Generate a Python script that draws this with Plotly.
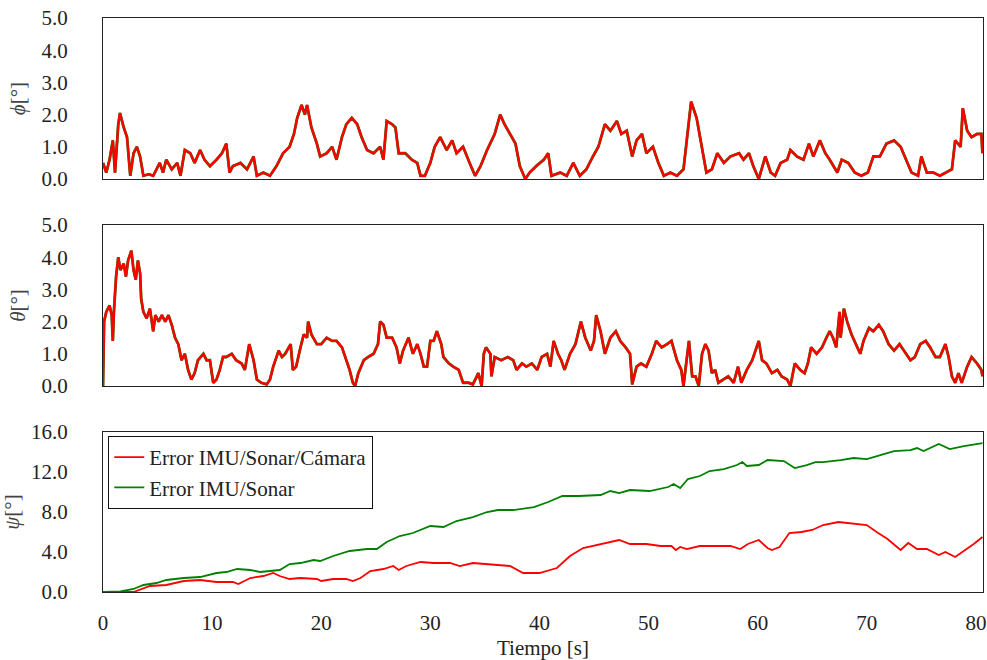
import plotly.graph_objects as go

# ---------------- data ----------------
t_phi = [0.0, 0.3, 0.6, 0.9, 1.1, 1.4, 1.56, 1.9, 2.2, 2.5, 2.8, 3.1, 3.4, 3.7, 4.2, 4.6, 5.2, 5.5, 5.8, 6.3,
         6.8, 7.1, 7.5, 8.0, 8.4, 8.9, 9.3, 9.8, 10.4, 10.9, 11.3, 11.6, 11.9, 12.6, 13.2, 13.8, 14.1, 14.7, 15.3, 15.9,
         16.5, 17.1, 17.5, 17.8, 18.2, 18.5, 18.7, 19.1, 19.6, 19.9, 20.5, 21.0, 21.4, 21.9, 22.3, 22.8, 23.3, 23.7, 24.2, 24.8,
         25.4, 25.7, 26.0, 26.5, 26.8, 27.1, 27.7, 28.3, 28.8, 29.1, 29.5, 30.0, 30.4, 30.9, 31.5, 32.0, 32.4, 33.0, 33.6, 34.1,
         34.6, 35.2, 35.9, 36.4, 36.8, 37.3, 37.8, 38.2, 38.7, 39.1, 39.7, 40.4, 40.8, 41.1, 41.9, 42.5, 43.1, 43.7, 44.3, 44.9,
         45.4, 46.0, 46.5, 47.1, 47.5, 48.0, 48.5, 48.9, 49.4, 49.8, 50.4, 50.9, 51.4, 52.0, 52.6, 53.2, 53.6, 53.9, 54.4, 54.9,
         55.3, 55.8, 56.3, 56.9, 57.5, 58.3, 58.7, 59.2, 59.6, 60.1, 60.7, 61.2, 61.6, 62.1, 62.7, 63.0, 63.6, 64.2, 64.7, 65.1,
         65.7, 66.2, 66.6, 67.3, 67.7, 68.3, 68.9, 69.5, 70.1, 70.6, 71.2, 71.8, 72.5, 73.1, 73.7, 74.1, 74.7, 75.0, 75.5, 76.1,
         76.7, 77.3, 77.8, 78.1, 78.6, 78.8, 79.2, 79.6, 80.1, 80.5, 80.6]
phi_cam = [0.5, 0.2, 0.6, 1.2, 0.2, 1.7, 2.05, 1.6, 1.3, 0.1, 0.8, 1.0, 0.7, 0.1, 0.15, 0.1, 0.5, 0.2, 0.6, 0.3,
           0.5, 0.1, 0.9, 0.8, 0.5, 0.9, 0.6, 0.4, 0.6, 0.8, 1.1, 0.2, 0.4, 0.5, 0.3, 0.7, 0.1, 0.2, 0.1, 0.4,
           0.8, 1.0, 1.4, 1.9, 2.3, 2.0, 2.3, 1.6, 1.1, 0.7, 0.8, 1.0, 0.6, 1.3, 1.7, 1.9, 1.7, 1.3, 0.9, 0.8,
           1.0, 0.6, 1.8, 1.7, 1.6, 0.8, 0.8, 0.6, 0.5, 0.1, 0.1, 0.5, 1.0, 1.3, 0.9, 1.2, 0.8, 1.0, 0.5, 0.1,
           0.4, 0.9, 1.4, 2.0, 1.7, 1.4, 1.1, 0.4, 0.0, 0.2, 0.4, 0.6, 0.8, 0.1, 0.2, 0.1, 0.5, 0.1, 0.3, 0.7,
           1.0, 1.7, 1.5, 1.8, 1.4, 1.5, 0.7, 1.2, 1.4, 0.8, 1.0, 0.5, 0.1, 0.2, 0.1, 0.3, 1.5, 2.4, 1.9, 0.9,
           0.2, 0.3, 0.8, 0.5, 0.7, 0.8, 0.6, 0.8, 0.4, 0.0, 0.7, 0.2, 0.1, 0.5, 0.6, 0.9, 0.7, 0.6, 1.1, 0.7,
           1.2, 0.8, 0.6, 0.2, 0.6, 0.5, 0.2, 0.1, 0.2, 0.7, 0.7, 1.1, 1.2, 1.0, 0.5, 0.2, 0.1, 0.7, 0.2, 0.2,
           0.1, 0.2, 0.3, 1.2, 1.0, 2.2, 1.5, 1.3, 1.4, 1.4, 0.8]
phi_son = phi_cam  # IMU/Sonar roll error lies under the red trace

t_theta = [0.0, 0.1, 0.3, 0.6, 0.8, 0.9, 1.0, 1.2, 1.4, 1.6, 1.9, 2.1, 2.3, 2.6, 2.8, 3.0, 3.2, 3.4, 3.5, 3.7,
           4.0, 4.3, 4.6, 4.8, 5.1, 5.4, 5.7, 6.0, 6.3, 6.6, 6.9, 7.2, 7.5, 7.8, 8.1, 8.4, 8.7, 9.2, 9.5, 9.8,
           10.1, 10.4, 10.7, 11.0, 11.3, 11.8, 12.2, 12.7, 13.0, 13.4, 13.8, 14.1, 14.5, 15.0, 15.3, 15.6, 16.1, 16.4, 16.7, 17.0,
           17.2, 17.4, 17.7, 18.1, 18.4, 18.7, 18.8, 19.1, 19.6, 20.0, 20.5, 21.0, 21.4, 21.9, 22.3, 22.6, 22.9, 23.1, 23.4, 23.9,
           24.3, 24.8, 25.2, 25.4, 25.7, 26.0, 26.5, 26.9, 27.2, 27.5, 28.0, 28.4, 28.8, 29.1, 29.4, 29.7, 30.0, 30.3, 30.6, 31.0,
           31.2, 31.7, 32.1, 32.6, 33.0, 33.5, 33.9, 34.4, 34.7, 34.9, 35.1, 35.5, 35.6, 35.9, 36.5, 37.1, 37.6, 37.9, 38.4, 38.8,
           39.3, 39.8, 40.2, 40.7, 41.0, 41.3, 41.7, 42.0, 42.3, 42.8, 43.3, 43.8, 44.2, 44.7, 45.0, 45.2, 45.6, 46.0, 46.5, 47.0,
           47.4, 47.9, 48.3, 48.5, 48.9, 49.3, 49.8, 50.3, 50.7, 51.2, 51.7, 52.1, 52.6, 53.0, 53.2, 53.5, 53.7, 54.0, 54.3, 54.6,
           54.9, 55.2, 55.5, 55.8, 56.1, 56.4, 56.9, 57.3, 57.8, 58.2, 58.5, 59.0, 59.5, 59.8, 60.1, 60.4, 60.8, 61.3, 61.8, 62.2,
           62.7, 63.0, 63.4, 63.9, 64.3, 64.6, 64.9, 65.4, 65.9, 66.3, 66.6, 66.9, 67.2, 67.5, 67.6, 67.9, 68.2, 68.6, 69.1, 69.4,
           69.7, 70.2, 70.6, 71.1, 71.5, 72.0, 72.5, 73.0, 73.4, 74.0, 74.4, 74.9, 75.4, 75.8, 76.3, 76.7, 77.2, 77.5, 77.8, 78.1,
           78.4, 78.7, 79.2, 79.6, 80.1, 80.5, 80.6]
theta_cam = [0.0, 2.0, 2.3, 2.5, 2.2, 1.4, 2.3, 3.4, 4.0, 3.6, 3.8, 3.4, 3.9, 4.2, 3.6, 3.3, 3.9, 3.5, 2.7, 2.3,
             2.1, 2.4, 1.7, 2.2, 2.0, 2.2, 2.0, 2.2, 1.9, 1.5, 1.3, 0.8, 1.0, 0.5, 0.2, 0.4, 0.8, 1.0, 0.8, 0.8,
             0.1, 0.2, 0.5, 0.9, 0.9, 1.0, 0.8, 0.7, 0.5, 1.3, 0.8, 0.2, 0.1, 0.05, 0.2, 0.6, 1.1, 0.9, 1.0, 1.2,
             1.3, 0.5, 0.6, 1.2, 1.6, 1.5, 2.0, 1.6, 1.3, 1.3, 1.5, 1.4, 1.4, 1.2, 0.8, 0.5, 0.1, 0.0, 0.4, 0.8,
             0.9, 1.0, 1.3, 2.0, 1.9, 1.5, 1.5, 1.2, 0.7, 1.1, 1.5, 1.0, 1.3, 1.0, 0.6, 0.6, 1.4, 1.4, 1.7, 1.3,
             0.9, 0.7, 0.6, 0.5, 0.1, 0.1, 0.05, 0.4, 0.0, 1.0, 1.2, 1.0, 0.3, 0.9, 0.8, 0.9, 0.8, 0.5, 0.7, 0.6,
             0.7, 0.5, 0.9, 1.0, 0.6, 1.4, 1.0, 0.8, 0.5, 1.0, 1.3, 2.0, 1.5, 1.1, 1.4, 2.2, 1.7, 1.0, 1.5, 1.7,
             1.4, 1.2, 1.0, 0.05, 0.6, 0.7, 0.6, 1.0, 1.4, 1.2, 1.3, 1.4, 0.8, 0.5, 0.0, 0.8, 1.4, 0.3, 0.3, 0.0,
             1.0, 1.3, 1.1, 0.4, 0.5, 0.1, 0.2, 0.3, 0.1, 0.6, 0.1, 0.5, 0.8, 1.1, 1.4, 0.8, 0.7, 0.4, 0.5, 0.3,
             0.2, 0.0, 0.7, 0.5, 0.4, 0.7, 1.2, 1.0, 1.2, 1.5, 1.7, 1.5, 1.2, 2.3, 1.5, 2.4, 2.0, 1.6, 1.2, 1.0,
             1.4, 1.8, 1.7, 1.9, 1.7, 1.3, 1.1, 1.3, 1.1, 0.8, 0.9, 1.3, 1.4, 1.2, 0.9, 0.9, 1.3, 0.9, 0.3, 0.1,
             0.4, 0.1, 0.6, 0.9, 0.7, 0.5, 0.3]
theta_son = theta_cam  # IMU/Sonar pitch error lies under the red trace

t_psi_cam = [0.0, 2.8, 4.3, 5.8, 7.4, 8.9, 10.4, 11.9, 12.4, 13.5, 14.7, 15.6, 16.2, 17.1, 18.1, 19.6, 20.0, 21.1, 22.3, 22.9,
             23.6, 24.5, 25.7, 26.6, 27.1, 27.8, 29.1, 30.3, 31.8, 32.7, 33.9, 35.2, 36.1, 37.3, 38.5, 40.0, 41.6, 42.8, 44.0, 45.6,
             47.3, 48.3, 49.8, 51.1, 52.1, 52.5, 52.9, 53.5, 54.7, 56.3, 57.5, 58.4, 59.1, 60.1, 60.9, 61.3, 62.0, 62.9, 64.0, 65.0,
             66.0, 67.4, 68.8, 70.0, 70.9, 71.9, 73.1, 73.8, 74.6, 75.5, 76.6, 77.2, 78.1, 78.9, 79.8, 80.6]
psi_cam = [0.0, 0.0, 0.6, 0.7, 1.1, 1.2, 1.0, 1.0, 0.8, 1.4, 1.6, 1.9, 1.6, 1.3, 1.4, 1.3, 1.1, 1.3, 1.3, 1.1,
           1.4, 2.1, 2.3, 2.6, 2.2, 2.6, 3.0, 2.9, 2.9, 2.6, 2.9, 2.8, 2.7, 2.6, 1.9, 1.9, 2.4, 3.6, 4.4, 4.8,
           5.2, 4.8, 4.8, 4.6, 4.6, 4.2, 4.5, 4.3, 4.6, 4.6, 4.6, 4.3, 4.8, 5.2, 4.4, 4.2, 4.5, 5.9, 6.0, 6.2,
           6.7, 7.0, 6.8, 6.7, 6.0, 5.3, 4.2, 4.9, 4.3, 4.3, 3.7, 4.0, 3.5, 4.1, 4.8, 5.5]

t_psi_son = [0.0, 1.6, 2.8, 3.7, 4.9, 5.8, 7.4, 8.9, 10.4, 11.3, 12.3, 13.5, 14.4, 15.6, 16.2, 17.1, 18.1, 19.3, 19.9, 21.1,
             22.6, 24.2, 25.1, 26.0, 27.2, 28.4, 30.0, 31.2, 32.4, 33.9, 35.2, 36.2, 37.6, 39.5, 40.8, 42.1, 43.6, 45.6, 46.5, 47.3,
             48.3, 50.1, 51.8, 52.3, 52.9, 53.6, 54.7, 55.6, 56.9, 58.1, 58.6, 59.0, 60.1, 60.9, 62.4, 63.4, 64.5, 65.3, 66.0, 67.6,
             68.8, 70.0, 71.2, 72.5, 74.0, 74.6, 75.2, 76.6, 77.6, 78.9, 80.6]
psi_son = [0.0, 0.05, 0.3, 0.7, 0.9, 1.2, 1.4, 1.5, 1.9, 2.0, 2.3, 2.2, 2.0, 2.1, 2.2, 2.8, 2.9, 3.2, 3.1, 3.6,
           4.1, 4.3, 4.3, 5.0, 5.6, 5.9, 6.6, 6.5, 7.1, 7.5, 8.0, 8.2, 8.2, 8.5, 9.0, 9.6, 9.6, 9.7, 10.1, 9.9,
           10.2, 10.1, 10.5, 10.8, 10.4, 11.3, 11.6, 12.1, 12.3, 12.7, 13.0, 12.6, 12.7, 13.2, 13.1, 12.4, 12.7, 13.0, 13.0, 13.2,
           13.4, 13.3, 13.7, 14.1, 14.2, 14.4, 14.1, 14.8, 14.3, 14.6, 14.9]

name_cam = "Error IMU/Sonar/Cámara"
name_son = "Error IMU/Sonar"
y_titles = ["<i>ϕ</i>[°]", "<i>θ</i>[°]", "<i>ψ</i>[°]"]
x_ticks = [0, 10, 20, 30, 40, 50, 60, 70, 80]
y_ticks_small = [0.0, 1.0, 2.0, 3.0, 4.0, 5.0]
y_ticks_psi = [0.0, 4.0, 8.0, 12.0, 16.0]

# ---------------- figure ----------------
RED = "#ff0000"
GREEN = "#008000"
FONT = "Liberation Serif"
FS = 21

fig = go.Figure()
# top panel
fig.add_trace(go.Scatter(x=t_phi, y=phi_son, mode="lines", line=dict(color=GREEN, width=2.8),
                         xaxis="x", yaxis="y", showlegend=False))
fig.add_trace(go.Scatter(x=t_phi, y=phi_cam, mode="lines", line=dict(color=RED, width=2.4),
                         xaxis="x", yaxis="y", showlegend=False))
# middle panel
fig.add_trace(go.Scatter(x=t_theta, y=theta_son, mode="lines", line=dict(color=GREEN, width=2.8),
                         xaxis="x2", yaxis="y2", showlegend=False))
fig.add_trace(go.Scatter(x=t_theta, y=theta_cam, mode="lines", line=dict(color=RED, width=2.4),
                         xaxis="x2", yaxis="y2", showlegend=False))
# bottom panel
fig.add_trace(go.Scatter(x=t_psi_cam, y=psi_cam, mode="lines", line=dict(color=RED, width=1.8),
                         xaxis="x3", yaxis="y3", name=name_cam))
fig.add_trace(go.Scatter(x=t_psi_son, y=psi_son, mode="lines", line=dict(color=GREEN, width=1.8),
                         xaxis="x3", yaxis="y3", name=name_son))

XR = [0, 80.65]
common_x = dict(range=XR, showline=True, mirror=True, linecolor="#222", linewidth=1.2,
                showgrid=False, zeroline=False, ticks="", tickvals=x_ticks, automargin=False)
common_y = dict(showline=True, mirror=True, linecolor="#222", linewidth=1.2, showgrid=False,
                zeroline=False, ticks="", ticklabelstandoff=30, automargin=False,
                tickfont=dict(family=FONT, size=FS, color="#222"),
                title_font=dict(family=FONT, size=FS, color="#444"), title_standoff=10)

d1 = [0.7195, 1.0]
d2 = [0.3589, 0.6394]
d3 = [0.0, 0.2787]

fig.update_layout(
    width=987, height=660,
    margin=dict(l=103, r=4, t=18, b=68, autoexpand=False),
    paper_bgcolor="white", plot_bgcolor="white",
    font=dict(family=FONT, size=FS, color="#222"),
    xaxis=dict(**common_x, anchor="y", showticklabels=False, domain=[0, 1]),
    xaxis2=dict(**common_x, anchor="y2", showticklabels=False, domain=[0, 1]),
    xaxis3=dict(**common_x, anchor="y3", showticklabels=True, domain=[0, 1],
                tickfont=dict(family=FONT, size=FS, color="#222"), ticklabelstandoff=12,
                title=dict(text="Tiempo [s]", font=dict(family=FONT, size=FS, color="#222"), standoff=12)),
    yaxis=dict(**common_y, domain=d1, range=[0, 5], tickvals=y_ticks_small,
               ticktext=[f"{v:.1f}" for v in y_ticks_small], title_text=y_titles[0]),
    yaxis2=dict(**common_y, domain=d2, range=[0, 5], tickvals=y_ticks_small,
                ticktext=[f"{v:.1f}" for v in y_ticks_small], title_text=y_titles[1]),
    yaxis3=dict(**common_y, domain=d3, range=[0, 16], tickvals=y_ticks_psi,
                ticktext=[f"{v:.1f}" for v in y_ticks_psi], title_text=y_titles[2]),
    legend=dict(x=0.006, y=0.2718, xanchor="left", yanchor="top",
                bordercolor="#111", borderwidth=1, bgcolor="white",
                font=dict(family=FONT, size=FS, color="#222"),
                tracegroupgap=0, itemwidth=30),
    showlegend=True,
)

fig.write_html("out.html")
